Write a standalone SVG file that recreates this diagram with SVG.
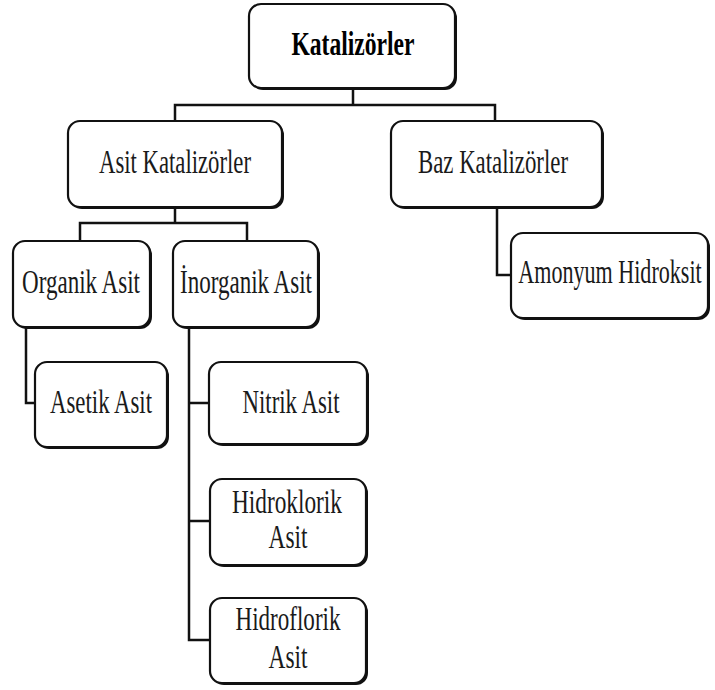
<svg xmlns="http://www.w3.org/2000/svg" width="715" height="690" viewBox="0 0 715 690">
<style>
.sh{fill:#111;stroke:none}
.bx{fill:#fff;stroke:#111;stroke-width:2.2}
text{font-family:"Liberation Serif","Times New Roman",Times,serif;font-size:34px;fill:#1a1a1a;text-anchor:middle}
.b{font-weight:bold;fill:#000}
.c{fill:none;stroke:#111;stroke-width:2.5}
</style>
<rect width="715" height="690" fill="#fff"/>
<g id="connectors">
<path class="c" d="M353 88 V105 M175 121 V105 H495 V121"/>
<path class="c" d="M175 207 V223 M80 241 V223 H247 V241"/>
<path class="c" d="M497 207 V275 H511"/>
<path class="c" d="M26 327 V403 H35"/>
<path class="c" d="M189 327 V640 H210 M189 403 H209 M189 521 H210"/>
</g>
<g id="katalizorler">
<rect class="sh" x="251" y="6" width="206" height="84" rx="12"/>
<rect class="bx" x="249" y="4" width="206" height="84" rx="12"/>
<text class="b" x="353" y="55" textLength="123" lengthAdjust="spacingAndGlyphs">Katalizörler</text>
</g>
<g id="asit-katalizorler">
<rect class="sh" x="70" y="123" width="214" height="86" rx="12"/>
<rect class="bx" x="68" y="121" width="214" height="86" rx="12"/>
<text x="175" y="173" textLength="152" lengthAdjust="spacingAndGlyphs">Asit Katalizörler</text>
</g>
<g id="baz-katalizorler">
<rect class="sh" x="393" y="123" width="211" height="86" rx="12"/>
<rect class="bx" x="391" y="121" width="211" height="86" rx="12"/>
<text x="493" y="173" textLength="150" lengthAdjust="spacingAndGlyphs">Baz Katalizörler</text>
</g>
<g id="amonyum-hidroksit">
<rect class="sh" x="513" y="235" width="197" height="85" rx="12"/>
<rect class="bx" x="511" y="233" width="197" height="85" rx="12"/>
<text transform="translate(610 283) scale(0.65 1)" x="0" y="0">Amonyum Hidroksit</text>
</g>
<g id="organik-asit">
<rect class="sh" x="15" y="243" width="137" height="86" rx="12"/>
<rect class="bx" x="13" y="241" width="137" height="86" rx="12"/>
<text x="81" y="293" textLength="118" lengthAdjust="spacingAndGlyphs">Organik Asit</text>
</g>
<g id="inorganik-asit">
<rect class="sh" x="175" y="243" width="145" height="86" rx="12"/>
<rect class="bx" x="173" y="241" width="145" height="86" rx="12"/>
<text x="246" y="293" textLength="132" lengthAdjust="spacingAndGlyphs">İnorganik Asit</text>
</g>
<g id="asetik-asit">
<rect class="sh" x="37" y="364" width="132" height="85" rx="12"/>
<rect class="bx" x="35" y="362" width="132" height="85" rx="12"/>
<text x="101" y="413" textLength="102" lengthAdjust="spacingAndGlyphs">Asetik Asit</text>
</g>
<g id="nitrik-asit">
<rect class="sh" x="211" y="364" width="158" height="82" rx="12"/>
<rect class="bx" x="209" y="362" width="158" height="82" rx="12"/>
<text x="291" y="413" textLength="97" lengthAdjust="spacingAndGlyphs">Nitrik Asit</text>
</g>
<g id="hidroklorik-asit">
<rect class="sh" x="212" y="481" width="156" height="86" rx="12"/>
<rect class="bx" x="210" y="479" width="156" height="86" rx="12"/>
<text x="287" y="513" textLength="110" lengthAdjust="spacingAndGlyphs">Hidroklorik</text>
<text x="288" y="548" textLength="39" lengthAdjust="spacingAndGlyphs">Asit</text>
</g>
<g id="hidroflorik-asit">
<rect class="sh" x="212" y="600" width="156" height="85" rx="12"/>
<rect class="bx" x="210" y="598" width="156" height="85" rx="12"/>
<text x="288" y="630" textLength="105" lengthAdjust="spacingAndGlyphs">Hidroflorik</text>
<text x="288" y="668" textLength="39" lengthAdjust="spacingAndGlyphs">Asit</text>
</g>
</svg>
